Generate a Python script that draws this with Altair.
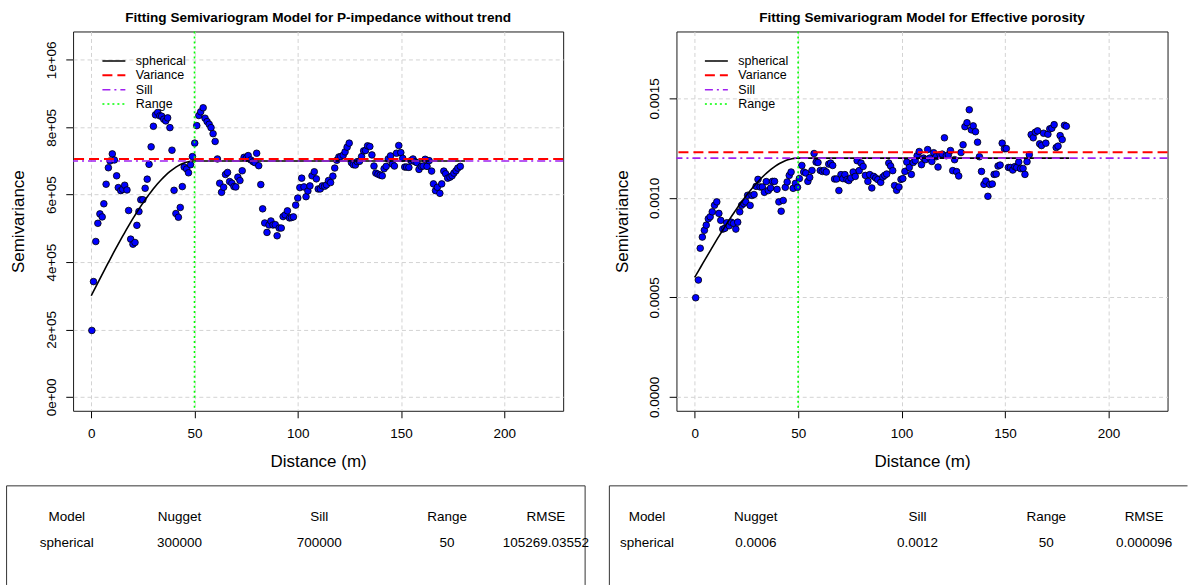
import altair as alt
import pandas as pd

FONT = "Liberation Sans"

# ---------------- data: P-impedance (left panel) ----------------
imp_dist = [0.3, 1.1, 2.2, 3.2, 4.2, 5.3, 6.1, 7.2, 8.3, 9.1, 10.2, 11.2, 12.3, 13.1, 14.3, 15.2, 16.2, 17.3,
            18.1, 19.1, 20.2, 21.2, 22.1, 23.1, 24.0, 25.0, 26.1, 27.1, 28.0, 29.0, 30.1, 31.1, 32.2, 33.2,
            34.1, 35.1, 36.1, 37.0, 38.1, 39.1, 40.1, 41.0, 42.2, 43.1, 44.1, 45.0, 46.2, 47.1, 48.1, 49.0,
            50.1, 51.1, 52.1, 53.0, 54.2, 55.1, 56.1, 57.1, 58.0, 59.0, 60.0, 61.1, 62.2, 63.1, 64.1, 65.0,
            66.0, 67.0, 68.1, 69.1, 70.0, 71.0, 72.0, 73.1, 74.0, 75.0, 76.0, 77.3, 78.4, 79.3, 80.1, 81.1,
            82.1, 83.0, 84.0, 85.1, 86.1, 87.0, 88.0, 89.1, 90.0, 91.0, 92.0, 92.9, 93.9, 95.0, 96.0, 96.9,
            97.9, 99.0, 100.0, 101.0, 101.9, 103.0, 104.0, 104.9, 105.9, 106.9, 108.0, 109.0, 109.9, 110.9,
            111.9, 113.0, 113.9, 114.9, 115.9, 117.0, 117.9, 118.9, 119.9, 120.8, 122.0, 122.9, 123.9, 124.9,
            126.0, 126.9, 127.9, 128.8, 129.9, 130.9, 131.9, 132.8, 133.8, 134.9, 135.9, 136.9, 137.8, 138.8,
            139.9, 140.9, 141.8, 142.8, 143.8, 144.9, 145.8, 146.8, 147.8, 148.9, 149.9, 150.8, 151.8, 152.7,
            153.8, 154.8, 155.8, 156.7, 157.7, 158.7, 159.8, 160.7, 161.7, 162.6, 163.6, 164.8, 165.7, 166.7,
            167.6, 168.8, 169.7, 170.7, 171.6, 172.6, 173.7, 174.7, 175.6, 176.6, 177.5, 178.7]
imp_gamma = [197000, 342000, 461000, 515000, 543000, 534000, 573000, 631000, 680000, 700000, 721000, 703000,
             656000, 621000, 612000, 616000, 628000, 614000, 553000, 468000, 453000, 458000, 509000, 550000,
             585000, 585000, 619000, 646000, 690000, 742000, 803000, 837000, 844000, 834000, 833000, 824000,
             819000, 828000, 799000, 732000, 613000, 544000, 533000, 562000, 624000, 682000, 676000, 665000,
             689000, 713000, 753000, 805000, 835000, 846000, 858000, 827000, 817000, 809000, 799000, 781000,
             758000, 706000, 634000, 607000, 622000, 660000, 666000, 639000, 634000, 624000, 623000, 652000,
             642000, 671000, 711000, 708000, 716000, 703000, 698000, 695000, 723000, 686000, 630000, 558000,
             516000, 488000, 510000, 522000, 510000, 511000, 478000, 501000, 501000, 535000, 540000, 552000,
             531000, 532000, 534000, 569000, 590000, 621000, 649000, 623000, 594000, 611000, 626000, 656000,
             668000, 647000, 617000, 617000, 626000, 625000, 629000, 642000, 636000, 655000, 679000, 702000,
             712000, 713000, 717000, 727000, 741000, 753000, 695000, 689000, 688000, 698000, 699000, 713000,
             730000, 731000, 745000, 743000, 718000, 685000, 664000, 661000, 658000, 656000, 677000, 684000,
             706000, 715000, 691000, 685000, 723000, 746000, 725000, 708000, 682000, 682000, 681000, 701000,
             706000, 698000, 695000, 675000, 684000, 685000, 705000, 684000, 701000, 670000, 632000, 612000,
             622000, 604000, 632000, 670000, 662000, 649000, 652000, 656000, 664000, 671000, 679000, 684000]

# ---------------- data: Effective porosity (right panel) ----------------
por_dist = [0.5, 1.8, 2.7, 3.7, 4.7, 5.6, 6.6, 7.5, 8.5, 9.6, 10.7, 11.7, 12.6, 13.6, 14.6, 15.5, 16.7, 17.6,
            18.8, 19.9, 20.8, 21.8, 22.7, 23.7, 24.7, 25.6, 26.8, 27.7, 28.7, 29.7, 30.6, 31.6, 32.7, 33.7,
            34.6, 35.6, 36.7, 37.6, 38.6, 39.8, 40.7, 41.8, 42.8, 43.8, 44.7, 45.7, 46.6, 47.6, 48.7, 49.7,
            50.6, 51.8, 52.7, 53.7, 54.7, 55.6, 56.7, 57.7, 58.7, 59.6, 60.7, 61.7, 62.6, 63.6, 64.8, 65.7,
            66.7, 67.6, 68.6, 69.7, 70.7, 71.6, 72.6, 73.6, 74.5, 75.5, 76.6, 77.6, 78.5, 79.5, 80.4, 81.4,
            82.5, 83.7, 84.6, 85.6, 86.5, 87.5, 88.5, 89.9, 90.9, 91.8, 92.8, 93.8, 94.7, 95.7, 96.6, 97.6,
            98.7, 99.7, 100.6, 101.6, 102.5, 103.7, 104.7, 105.6, 106.6, 107.5, 108.5, 109.6, 110.6, 111.5,
            112.6, 113.6, 114.6, 115.5, 116.7, 117.6, 118.6, 119.6, 120.7, 121.6, 122.6, 123.6, 124.7, 125.6,
            126.6, 127.6, 128.7, 129.7, 130.6, 131.6, 132.7, 133.7, 134.6, 135.7, 136.7, 137.6, 138.6, 139.8,
            140.7, 141.7, 142.6, 143.8, 144.7, 145.7, 146.6, 147.6, 148.6, 149.7, 150.6, 151.6, 152.6, 153.7,
            154.7, 155.6, 156.6, 157.5, 158.7, 159.6, 160.6, 161.7, 162.6, 163.6, 164.6, 165.7, 166.7, 167.6,
            168.6, 169.7, 170.7, 171.6, 172.6, 173.7, 174.7, 175.6, 176.6, 177.6, 178.7, 179.6]
por_gamma = [4.98e-4, 5.87e-4, 7.47e-4, 8.03e-4, 8.37e-4, 8.63e-4, 8.95e-4, 9.05e-4, 9.30e-4, 9.63e-4, 9.80e-4,
             9.22e-4, 8.87e-4, 8.43e-4, 8.47e-4, 8.75e-4, 8.60e-4, 8.78e-4, 8.72e-4, 8.43e-4, 8.78e-4, 9.30e-4,
             9.63e-4, 9.72e-4, 9.80e-4, 10.13e-4, 9.62e-4, 10.12e-4, 10.17e-4, 10.58e-4, 10.93e-4, 10.55e-4,
             10.55e-4, 10.28e-4, 10.82e-4, 10.37e-4, 10.50e-4, 10.83e-4, 10.83e-4, 10.43e-4, 9.80e-4, 9.33e-4,
             9.87e-4, 10.53e-4, 10.80e-4, 11.13e-4, 11.30e-4, 10.48e-4, 10.73e-4, 10.53e-4, 10.97e-4, 11.63e-4,
             11.30e-4, 11.25e-4, 10.83e-4, 11.03e-4, 11.38e-4, 12.23e-4, 11.80e-4, 11.78e-4, 11.38e-4, 11.33e-4,
             11.38e-4, 11.30e-4, 11.70e-4, 11.75e-4, 11.63e-4, 10.95e-4, 10.95e-4, 10.37e-4, 11.17e-4, 10.97e-4,
             11.17e-4, 10.92e-4, 10.87e-4, 11.00e-4, 11.30e-4, 11.08e-4, 11.87e-4, 11.37e-4, 11.75e-4, 11.58e-4,
             11.13e-4, 10.83e-4, 11.17e-4, 10.50e-4, 11.08e-4, 11.00e-4, 10.92e-4, 10.78e-4, 11.05e-4, 11.13e-4,
             11.20e-4, 11.75e-4, 11.60e-4, 11.37e-4, 10.62e-4, 10.38e-4, 10.55e-4, 10.93e-4, 10.97e-4, 11.33e-4,
             11.80e-4, 11.53e-4, 11.18e-4, 11.78e-4, 11.88e-4, 12.12e-4, 12.33e-4, 11.67e-4, 12.00e-4, 11.92e-4,
             12.43e-4, 12.00e-4, 11.83e-4, 12.27e-4, 12.07e-4, 11.55e-4, 12.17e-4, 12.20e-4, 13.02e-4, 12.12e-4,
             12.17e-4, 12.38e-4, 11.37e-4, 11.92e-4, 11.32e-4, 11.10e-4, 12.28e-4, 12.67e-4, 13.58e-4, 13.78e-4,
             14.43e-4, 13.42e-4, 13.62e-4, 13.33e-4, 12.80e-4, 12.07e-4, 11.33e-4, 10.68e-4, 10.85e-4, 10.08e-4,
             10.67e-4, 10.70e-4, 11.18e-4, 11.20e-4, 11.60e-4, 11.65e-4, 12.75e-4, 12.47e-4, 12.48e-4, 11.53e-4,
             11.53e-4, 11.40e-4, 11.57e-4, 11.53e-4, 11.80e-4, 11.47e-4, 11.48e-4, 11.18e-4, 11.82e-4, 12.17e-4,
             13.18e-4, 13.02e-4, 13.30e-4, 13.37e-4, 12.72e-4, 12.63e-4, 13.25e-4, 12.75e-4, 13.20e-4, 13.47e-4,
             13.50e-4, 13.68e-4, 12.53e-4, 12.60e-4, 13.13e-4, 12.93e-4, 13.65e-4, 13.60e-4]

# ---------------- model parameters / tables ----------------
table_header = ["Model", "Nugget", "Sill", "Range", "RMSE"]
imp_table = ["spherical", "300000", "700000", "50", "105269.03552"]
por_table = ["spherical", "0.0006", "0.0012", "50", "0.000096"]
imp_nugget, imp_sill, imp_range, imp_variance = 300000, 700000, 50, 706000
por_nugget, por_sill, por_range, por_variance = 0.0006, 0.0012, 50, 0.00123
model_max_dist = 181

legend_names = ["spherical", "Variance", "Sill", "Range"]
legend_colors = ["#000000", "#ff0000", "#a020f0", "#00ff00"]
legend_dashes = [[1, 0], [10, 5], [8, 4, 2, 4], [2, 3]]
legend_widths = [1.6, 2, 1.6, 1.6]

imp_yticks = [0, 200000, 400000, 600000, 800000, 1000000]
imp_ylabels = ["0e+00", "2e+05", "4e+05", "6e+05", "8e+05", "1e+06"]
por_yticks = [0, 0.0005, 0.001, 0.0015]
por_ylabels = ["0.0000", "0.0005", "0.0010", "0.0015"]
x_ticks = [0, 50, 100, 150, 200]


def spherical(h, nugget, sill, rng):
    if h >= rng:
        return sill
    r = h / rng
    return nugget + (sill - nugget) * (1.5 * r - 0.5 * r ** 3)


def label_expr(values, labels):
    expr = "''"
    for v, l in reversed(list(zip(values, labels))):
        expr = f"datum.value == {v!r} ? '{l}' : ({expr})"
    return expr


def panel(dist, gamma, title, nugget, sill, rng, variance, ydomain, yticks, ylabels,
          table_vals, width, col_x, legend_x):
    H = 380
    xs = alt.X("dist:Q", scale=alt.Scale(domain=[-8.8, 228.5], nice=False, zero=False),
               axis=alt.Axis(values=x_ticks, title="Distance (m)", format="d"))
    ys = alt.Y("gamma:Q", scale=alt.Scale(domain=ydomain, nice=False, zero=False),
               axis=alt.Axis(values=yticks, title="Semivariance",
                             labelExpr=label_expr(yticks, ylabels)))
    pts = alt.Chart(pd.DataFrame({"dist": dist, "gamma": gamma})).mark_circle(
        size=44, color="#0000ff", opacity=1, stroke="#000000", strokeWidth=0.8
    ).encode(x=xs, y=ys)

    hs = list(range(0, model_max_dist + 1))
    curve = alt.Chart(pd.DataFrame({"dist": hs, "gamma": [spherical(h, nugget, sill, rng) for h in hs]})
                      ).mark_line(color="#000000", strokeWidth=1.6).encode(x=xs, y=ys)
    var_rule = alt.Chart(pd.DataFrame({"gamma": [variance]})).mark_rule(
        color=legend_colors[1], strokeDash=legend_dashes[1], strokeWidth=legend_widths[1]).encode(y=ys)
    sill_rule = alt.Chart(pd.DataFrame({"gamma": [sill]})).mark_rule(
        color=legend_colors[2], strokeDash=legend_dashes[2], strokeWidth=legend_widths[2]).encode(y=ys)
    rng_rule = alt.Chart(pd.DataFrame({"dist": [rng]})).mark_rule(
        color=legend_colors[3], strokeDash=legend_dashes[3], strokeWidth=legend_widths[3]).encode(x=xs)

    layers = [pts, curve, sill_rule, var_rule, rng_rule]

    # legend (top-left inside the plot)
    for i, name in enumerate(legend_names):
        yy = 29.5 + 14.4 * i
        d = pd.DataFrame({"label": [name]})
        layers.append(alt.Chart(d).mark_rule(color=legend_colors[i], strokeDash=legend_dashes[i],
                                             strokeWidth=legend_widths[i]).encode(
            x=alt.value(legend_x), x2=alt.value(legend_x + 23), y=alt.value(yy)))
        layers.append(alt.Chart(d).mark_text(align="left", baseline="middle", font=FONT, fontSize=12.5,
                                             color="#000000").encode(
            text="label:N", x=alt.value(legend_x + 33.5), y=alt.value(yy)))

    # table box below the plot
    box_left, box_right, box_top, box_bottom = col_x[0], col_x[1], 455.2, 554.5
    bd = pd.DataFrame({"a": [0]})
    layers.append(alt.Chart(bd).mark_rule(color="#333333", strokeWidth=1).encode(
        x=alt.value(box_left), x2=alt.value(box_right), y=alt.value(box_top)))
    layers.append(alt.Chart(bd).mark_rule(color="#333333", strokeWidth=1).encode(
        x=alt.value(box_left), y=alt.value(box_top), y2=alt.value(box_bottom)))
    if col_x[2]:
        layers.append(alt.Chart(bd).mark_rule(color="#333333", strokeWidth=1).encode(
            x=alt.value(box_right), y=alt.value(box_top), y2=alt.value(box_bottom)))
    for j, (hd, val) in enumerate(zip(table_header, table_vals)):
        d = pd.DataFrame({"h": [hd], "v": [val]})
        cx = col_x[3][j]
        layers.append(alt.Chart(d).mark_text(align="center", baseline="middle", font=FONT, fontSize=13.5,
                                             color="#000000").encode(
            text="h:N", x=alt.value(cx), y=alt.value(486.5)))
        layers.append(alt.Chart(d).mark_text(align="center", baseline="middle", font=FONT, fontSize=13.5,
                                             color="#000000").encode(
            text="v:N", x=alt.value(cx), y=alt.value(512.5)))

    return alt.layer(*layers).properties(
        width=width, height=H,
        title=alt.TitleParams(title, font=FONT, fontSize=13.6, fontWeight="bold", anchor="middle",
                              baseline="bottom", offset=-7.6, color="#000000"),
    )


left = panel(imp_dist, imp_gamma, "Fitting Semivariogram Model for P-impedance without trend",
             imp_nugget, imp_sill, imp_range, imp_variance, [-41460, 1084400], imp_yticks, imp_ylabels,
             imp_table, 491, (-66.6, 513.0, True, [-6.3, 106.7, 246.7, 374.7, 473.7]), 29.4)
right = panel(por_dist, por_gamma, "Fitting Semivariogram Model for Effective porosity",
              por_nugget, por_sill, por_range, por_variance, [-0.0000702, 0.0018365], por_yticks,
              por_ylabels, por_table, 492, (-67.2, 512.0, False, [-29.5, 79.5, 241.5, 370.5, 468.5]), 28.5)

chart = alt.hconcat(left, right, spacing=113.5, bounds="flush").properties(
    padding={"left": 5.2, "top": 9, "right": 0, "bottom": 0},
    background="#ffffff",
).configure_view(
    stroke="#1a1a1a", strokeWidth=1
).configure_axis(
    labelFont=FONT, titleFont=FONT, labelFontSize=13.5, titleFontSize=17, titleFontWeight="normal",
    labelColor="#000000", titleColor="#000000", tickColor="#000000", domain=False,
    grid=True, gridColor="#d3d3d3", gridDash=[4, 3], gridWidth=1,
).configure_axisX(
    tickSize=7, labelPadding=9.2, minExtent=30, maxExtent=30, titlePadding=12.5,
    labelBaseline="top", titleBaseline="top",
).configure_axisY(
    tickSize=7.3, labelPadding=7.3, labelAngle=270, labelAlign="center", labelBaseline="bottom",
    minExtent=30, maxExtent=30, titlePadding=15.3, titleBaseline="bottom",
)

chart.save("out.html", embed_options={"renderer": "svg", "actions": False})
